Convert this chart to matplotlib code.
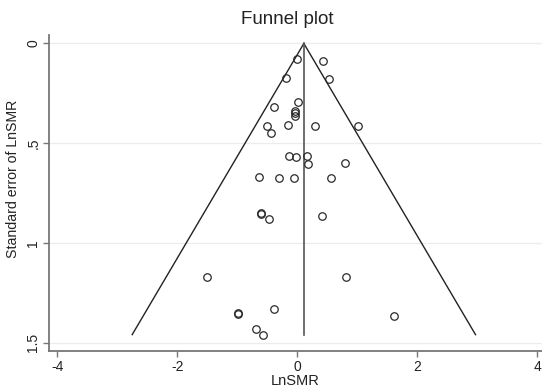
import matplotlib
matplotlib.use("Agg")
import matplotlib.pyplot as plt
import numpy as np

plt.rcParams['font.family'] = ['Liberation Sans', 'DejaVu Sans']

# Study estimates (LnSMR) and their standard errors
ln_smr = [-0.01, 0.43, -0.18, 0.53, -0.38, 0.01, -0.04, -0.04, -0.04, -0.51,
          -0.16, 0.29, 1.02, -0.44, -0.13, -0.02, 0.17, 0.18, 0.79, -0.63,
          -0.31, -0.05, 0.57, -0.60, -0.61, -0.47, 0.41, -1.50, 0.81, -0.99,
          -0.98, -0.38, -0.69, -0.57, 1.62]
se_ln_smr = [0.079, 0.090, 0.174, 0.180, 0.318, 0.294, 0.338, 0.348, 0.363, 0.413,
             0.411, 0.413, 0.413, 0.450, 0.563, 0.571, 0.566, 0.602, 0.600, 0.669,
             0.673, 0.674, 0.674, 0.852, 0.855, 0.879, 0.866, 1.170, 1.170, 1.353,
             1.356, 1.332, 1.432, 1.461, 1.365]
pooled = 0.11
max_se = 1.46
z = 1.96

x_ticks = [-4, -2, 0, 2, 4]
y_ticks = [0, 0.5, 1, 1.5]
y_tick_labels = ["0", ".5", "1", "1.5"]

fig = plt.figure(figsize=(5.42, 3.90), dpi=100)
ax = fig.add_axes([0.091, 0.100, 0.909, 0.810])

# grid
for yt in y_ticks:
    ax.axhline(yt, color='#ececec', lw=0.9, zorder=0)

# funnel lines
ax.plot([pooled - z * max_se, pooled, pooled + z * max_se], [max_se, 0, max_se],
        color='#222222', lw=1.0, zorder=2)
ax.plot([pooled, pooled], [0, max_se], color='#555555', lw=1.2, zorder=2)

ax.plot(ln_smr, se_ln_smr, linestyle='none', marker='o', markersize=5.4,
        markerfacecolor='none', markeredgecolor='#2a2a2a', markeredgewidth=0.9, zorder=3)

ax.set_xlim(-4.133, 4.08)
ax.set_ylim(1.542, -0.042)

ax.set_xticks(x_ticks)
ax.set_xticklabels([str(t) for t in x_ticks])
ax.set_yticks(y_ticks)
ax.set_yticklabels(y_tick_labels, rotation=90, va='center')

for s in ['top', 'right']:
    ax.spines[s].set_visible(False)
for s in ['left', 'bottom']:
    ax.spines[s].set_color('#777777')
    ax.spines[s].set_linewidth(1.3)

ax.tick_params(axis='both', direction='out', length=4.5, width=1.0, color='#777777',
               labelsize=10, labelcolor='#222222', pad=2)

ax.set_xlabel("LnSMR", fontsize=10.5, color='#222222', labelpad=0)
ax.set_ylabel("Standard error of LnSMR", fontsize=10.2, color='#222222')
ax.yaxis.set_label_coords(-0.060, 0.545)
fig.text(0.530, 1 - 20 / 390, "Funnel plot", fontsize=13.5, color='#222222',
         ha='center', va='center')

fig.savefig("out.png", dpi=100)
